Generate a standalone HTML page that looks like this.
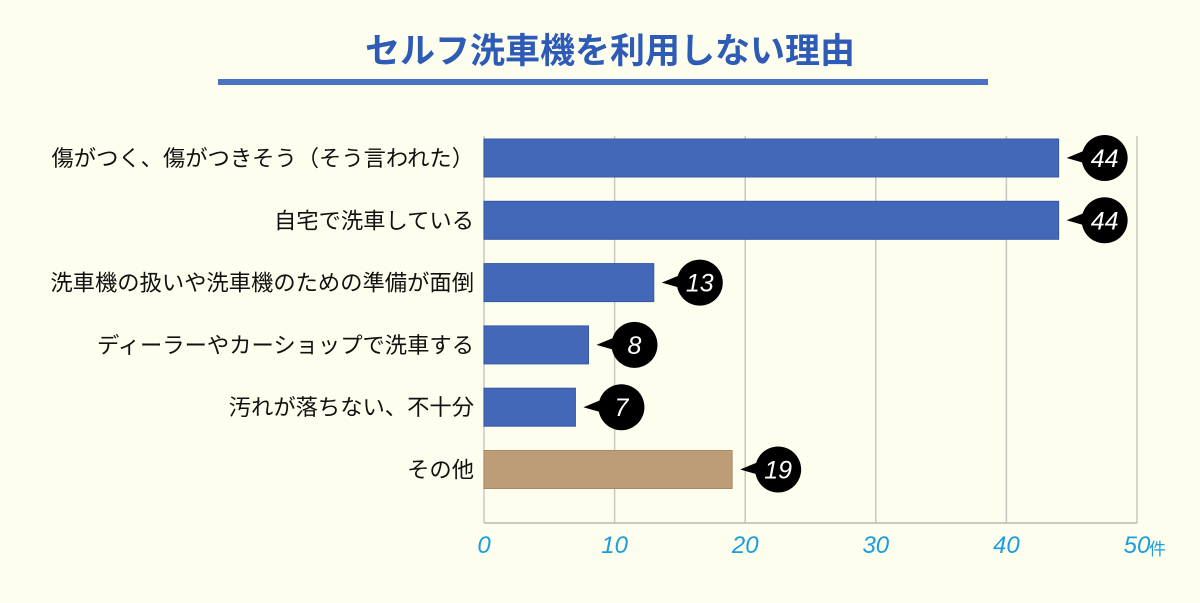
<!DOCTYPE html>
<html><head><meta charset="utf-8"><style>
body{margin:0;background:#fefeee;}
svg{display:block;font-family:"Liberation Sans","Noto Sans CJK JP",sans-serif;}
</style></head><body>
<svg id="c" width="1200" height="603" viewBox="0 0 1200 603">
<rect width="1200" height="603" fill="#fefeee"/>
<text x="610" y="63" text-anchor="middle" font-size="35" font-weight="bold" fill="#2d5bb5" font-family="'Noto Sans CJK JP',sans-serif">セルフ洗車機を利用しない理由</text>
<rect x="218" y="79" width="770" height="6" fill="#4a72c2"/>
<g id="grid"></g><g id="bars"></g><g id="labels"></g><g id="ticks"></g>
</svg>
<script>
const categories=["傷がつく、傷がつきそう（そう言われた）","自宅で洗車している","洗車機の扱いや洗車機のための準備が面倒","ディーラーやカーショップで洗車する","汚れが落ちない、不十分","その他"];
const values=[44,44,13,8,7,19];
const tickLabels=[0,10,20,30,40,50];
const NS="http://www.w3.org/2000/svg";
const x0=484,x1=1137,vmax=50,top0=139,rowH=62.3,barH=38,axisY=523;
function xs(v){return x0+(x1-x0)*v/vmax;}
function mk(t,a,p){const e=document.createElementNS(NS,t);for(const k in a)e.setAttribute(k,a[k]);p.appendChild(e);return e;}
const grid=document.getElementById('grid'),bars=document.getElementById('bars'),labels=document.getElementById('labels'),ticks=document.getElementById('ticks');
tickLabels.forEach(t=>{
 const l=mk('line',{x1:xs(t),x2:xs(t),y1:136,y2:axisY,stroke:'#c8c8c0','stroke-width':1.5},grid);
 
 
 const tx=mk('text',{x:xs(t),y:553,'text-anchor':'middle','font-size':24,'font-style':'italic',fill:'#1a9ee0'},ticks);
 tx.textContent=t;
 
 
});
const u=mk('text',{x:xs(50)+12,y:555,'font-size':17,fill:'#1a9ee0'},ticks);u.textContent='件';


const ax=mk('line',{x1:x0,x2:x1,y1:axisY,y2:axisY,stroke:'#b8b8b0','stroke-width':1.5},grid);


categories.forEach((c,i)=>{
 const y=top0+i*rowH,cy=y+barH/2,v=values[i],xe=xs(v);
 const r=mk('rect',{x:x0,y:y,width:xe-x0,height:barH,fill:i==5?'#bc9d78':'#4468b8',stroke:i==5?'#a88a66':'#3558a6','stroke-width':1},bars);
 
 
 const lb=mk('text',{x:474,y:cy+8,'text-anchor':'end','font-size':22.3,fill:'#111'},labels);
 lb.textContent=c;
 
 
 const cx=xe+46;
 const g=mk('g',{},bars);
 
 
 mk('polygon',{points:`${xe+8},${cy} ${cx-14},${cy-10} ${cx-10},${cy+8}`,fill:'#000'},g);
 mk('circle',{cx:cx,cy:cy,r:23,fill:'#000'},g);
 const vt=mk('text',{x:cx,y:cy+9,'text-anchor':'middle','font-size':25,'font-style':'italic',fill:'#fff'},g);
 vt.textContent=v;
});
</script>
</body></html>
